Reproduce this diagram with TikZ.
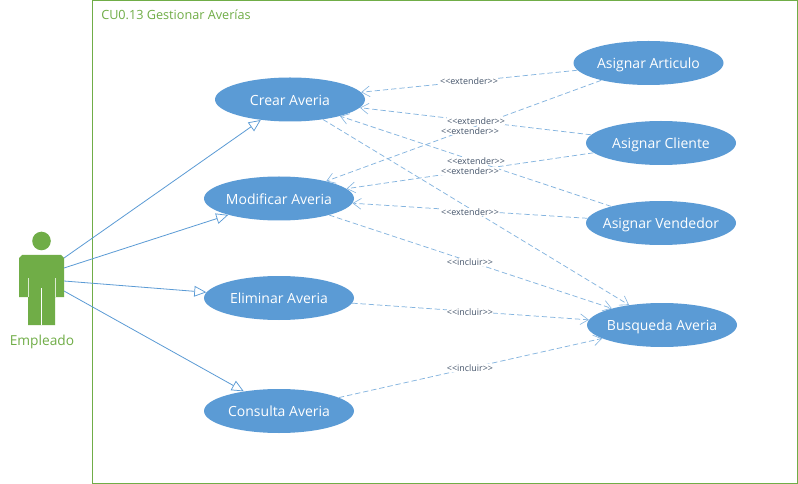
\documentclass[tikz,border=0pt]{standalone}
\usepackage{fontspec}
\setmainfont{Open Sans}
\usetikzlibrary{arrows.meta,shapes.geometric}
\definecolor{ublue}{HTML}{5B9BD5}
\definecolor{ugreen}{HTML}{70AD47}
\definecolor{ulabel}{HTML}{44546A}
\tikzset{
 usecase/.style={ellipse,fill=ublue,text=white,inner xsep=-30pt,inner ysep=-6pt,text height=11pt,text depth=2.6pt,font=\fontsize{10.5pt}{12pt}\selectfont},
 assoc/.style={draw=ublue,line width=0.6pt,-{Triangle[open,fill=white,length=9pt,width=8pt,line width=0.55pt]}},
 dep/.style={draw=ublue!75,line width=0.55pt,dash pattern=on 4pt off 2.2pt,-{Straight Barb[length=6pt,width=8pt,line width=0.45pt]}},
 stereo/.style={fill=white,text=ulabel,inner sep=0.2pt,yshift=-0.6pt,font=\fontsize{6.7pt}{8pt}\selectfont},
}
\newcommand{\ster}[1]{<{}<#1>{}>}
\begin{document}
\begin{tikzpicture}[x=0.75pt,y=-0.75pt]
\useasboundingbox (0,0) rectangle (798,484);
\fill[white] (0,0) rectangle (798,484);
\node[draw=ugreen,line width=0.75pt,minimum width=705*0.75pt,minimum height=482*0.75pt,inner sep=0pt] (frame) at (445,242) {};
\node[anchor=west,text=ugreen,inner sep=0pt,font=\fontsize{9.5pt}{11pt}\selectfont] (title) at (101,15) {CU0.13 Gestionar Averías};
% actor
\fill[ugreen] (41.5,241) circle[radius=9.3];
\fill[ugreen] (22,255) -- (61,255) -- (64,258) -- (64,297) -- (55,297) -- (55,325) -- (28,325) -- (28,297) -- (19,297) -- (19,258) -- cycle;
\draw[white!75!ugreen,line width=0.6pt] (28,278) -- (28,297) (55,278) -- (55,297);
\draw[white,line width=0.9pt] (41.5,288) -- (41.5,325);
\node[text=ugreen,inner sep=0pt,yshift=-1.4pt,font=\fontsize{10.3pt}{12pt}\selectfont] (emp) at (42,340) {Empleado};
\coordinate (a1) at (64,258);
\coordinate (a2) at (64,268);
\coordinate (a3) at (64,281);
\coordinate (a4) at (64,291);
% use cases
\node[usecase,minimum width=150*0.75pt,minimum height=44*0.75pt] (crear) at (290,99.5) {Crear Averia};
\node[usecase,minimum width=150*0.75pt,minimum height=44*0.75pt] (modificar) at (279,198.5) {Modificar Averia};
\node[usecase,minimum width=150*0.75pt,minimum height=44*0.75pt] (eliminar) at (279,298) {Eliminar Averia};
\node[usecase,minimum width=150*0.75pt,minimum height=44*0.75pt] (consulta) at (279,411) {Consulta Averia};
\node[usecase,minimum width=150*0.75pt,minimum height=44*0.75pt] (articulo) at (648.5,63) {Asignar Articulo};
\node[usecase,minimum width=150*0.75pt,minimum height=44*0.75pt] (cliente) at (661,143) {Asignar Cliente};
\node[usecase,minimum width=150*0.75pt,minimum height=44*0.75pt] (vendedor) at (661,223) {Asignar Vendedor};
\node[usecase,minimum width=150*0.75pt,minimum height=44*0.75pt] (busqueda) at (662,325) {Busqueda Averia};
% associations
\draw[assoc] (a1) -- (crear);
\draw[assoc] (a2) -- (modificar);
\draw[assoc] (a3) -- (eliminar);
\draw[assoc] (a4) -- (consulta);
% dependencies
\draw[dep] (articulo) -- (crear);
\draw[dep] (cliente) -- (crear);
\draw[dep] (vendedor) -- (crear);
\draw[dep] (articulo) -- (modificar);
\draw[dep] (cliente) -- (modificar);
\draw[dep] (vendedor) -- (modificar);
\draw[dep] (crear) -- (busqueda);
\draw[dep] (modificar) -- (busqueda);
\draw[dep] (eliminar) -- (busqueda);
\draw[dep] (consulta) -- (busqueda);
% stereotype labels
\node[stereo] (l1) at (469,80) {\ster{extender}};
\node[stereo] (l2) at (476,120) {\ster{extender}};
\node[stereo] (l3) at (470,130) {\ster{extender}};
\node[stereo] (l4) at (476,160) {\ster{extender}};
\node[stereo] (l5) at (470,170) {\ster{extender}};
\node[stereo] (l6) at (470,211) {\ster{extender}};
\node[stereo] (l7) at (470,261) {\ster{incluir}};
\node[stereo] (l8) at (470,311) {\ster{incluir}};
\node[stereo] (l9) at (470,367) {\ster{incluir}};
\end{tikzpicture}
\end{document}
